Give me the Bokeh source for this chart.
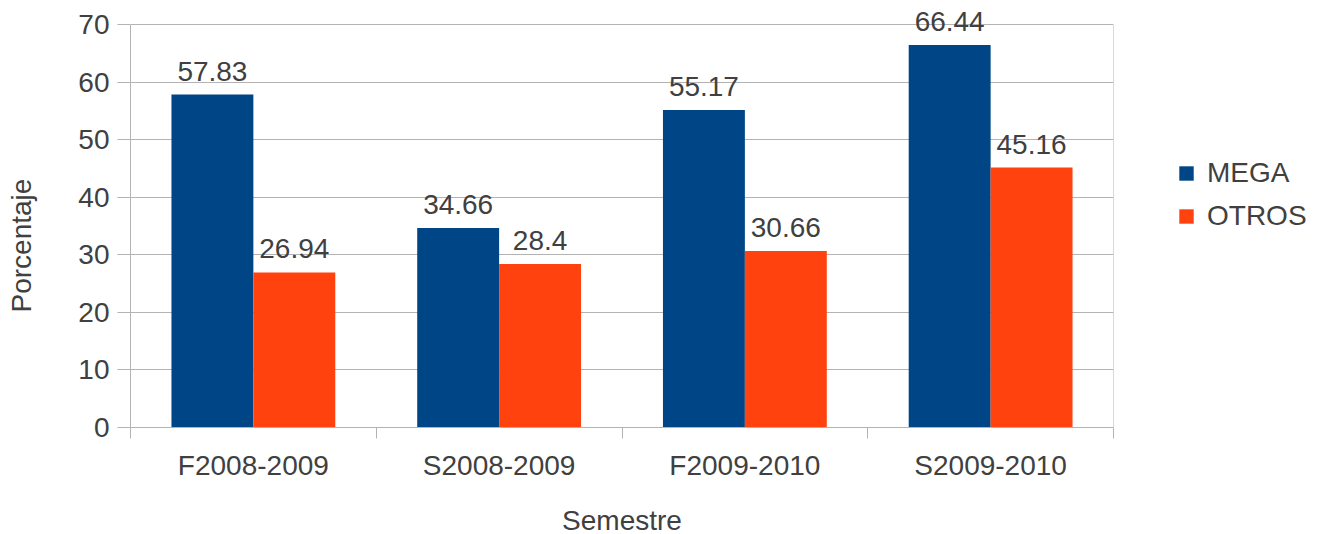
from bokeh.plotting import figure
from bokeh.models import ColumnDataSource, FixedTicker, Legend, LegendItem, Range1d, LabelSet, Title
from bokeh.transform import dodge
from bokeh.core.properties import value
from bokeh.embed import file_html
from bokeh.resources import INLINE

categories = ["F2008-2009", "S2008-2009", "F2009-2010", "S2009-2010"]
mega = [57.83, 34.66, 55.17, 66.44]
otros = [26.94, 28.4, 30.66, 45.16]
y_ticks = [0, 10, 20, 30, 40, 50, 60, 70]

FONT = "Liberation Sans"
TXT = "#404040"
GRID = "#b3b3b3"
MEGA_C = "#004586"
OTROS_C = "#ff420e"

# plot box spans 0..70 in 403px; extra headroom above so top labels are not clipped
Y_MAX = max(y_ticks)
PX_BOX = 403
PX_HEAD = 24
y_end = Y_MAX * (PX_BOX + PX_HEAD) / PX_BOX

xc = [i + 0.5 for i in range(len(categories))]
src = ColumnDataSource(dict(
    x=xc, mega=mega, otros=otros,
    mega_lbl=[f"{v:g}" for v in mega],
    otros_lbl=[f"{v:g}" for v in otros],
))

p = figure(width=1304, height=518, output_backend="svg", toolbar_location=None,
           x_range=Range1d(0, len(categories)), y_range=Range1d(0, y_end),
           min_border_left=130, min_border_right=191, min_border_top=0,
           min_border_bottom=86)
p.frame_width = 983
p.frame_height = PX_BOX + PX_HEAD

w = 1 / 3
r1 = p.vbar(x=dodge("x", -w / 2, range=p.x_range), top="mega", width=w, source=src,
            fill_color=MEGA_C, line_color=None)
r2 = p.vbar(x=dodge("x", w / 2, range=p.x_range), top="otros", width=w, source=src,
            fill_color=OTROS_C, line_color=None)

for col, lbl, off in (("mega", "mega_lbl", -w / 2), ("otros", "otros_lbl", w / 2)):
    labels = LabelSet(x=dodge("x", off, range=p.x_range), y=col, text=lbl, source=src,
                      text_align="center", text_baseline="bottom", y_offset=14,
                      text_font=value(FONT), text_font_size=value("28px"),
                      text_color=TXT, level="overlay")
    p.add_layout(labels)

# right border of the plot box
p.segment(x0=[len(categories)], y0=[0], x1=[len(categories)], y1=[Y_MAX],
          line_color=GRID, line_width=1)

# y axis
yax = p.yaxis[0]
yax.ticker = FixedTicker(ticks=y_ticks)
yax.bounds = (0, Y_MAX)
yax.major_label_text_font = FONT
yax.major_label_text_font_size = "28px"
yax.major_label_text_color = TXT
yax.major_label_standoff = 8
yax.major_tick_out = 13
yax.major_tick_in = 0
yax.minor_tick_line_color = None
yax.axis_line_color = GRID
yax.major_tick_line_color = GRID

# spacer between the y axis and its title, then the title itself
spacer = Title(text=" ", standoff=36, text_font_size="1px")
p.add_layout(spacer, "left")
ytitle = Title(text="Porcentaje", align="left", offset=115, standoff=0,
               text_font=FONT, text_font_size="28px", text_font_style="normal",
               text_color=TXT)
p.add_layout(ytitle, "left")

# x axis
xax = p.xaxis[0]
xax.ticker = FixedTicker(ticks=xc, minor_ticks=list(range(len(categories) + 1)))
xax.major_label_overrides = {x: c for x, c in zip(xc, categories)}
xax.axis_label = "Semestre"
xax.axis_label_text_font = FONT
xax.axis_label_text_font_size = "28px"
xax.axis_label_text_font_style = "normal"
xax.axis_label_text_color = TXT
xax.axis_label_standoff = 21
xax.major_label_text_font = FONT
xax.major_label_text_font_size = "28px"
xax.major_label_text_color = TXT
xax.major_label_standoff = 11
xax.major_tick_out = 0
xax.major_tick_in = 0
xax.major_tick_line_color = None
xax.minor_tick_out = 11
xax.minor_tick_in = 0
xax.minor_tick_line_color = GRID
xax.axis_line_color = GRID

p.xgrid.grid_line_color = None
p.ygrid.grid_line_color = GRID
p.ygrid.ticker = FixedTicker(ticks=y_ticks)
p.outline_line_color = None
p.background_fill_color = "white"
p.border_fill_color = "white"

legend = Legend(items=[LegendItem(label="MEGA", renderers=[r1]),
                       LegendItem(label="OTROS", renderers=[r2])],
                location=(64, 195), orientation="vertical",
                label_text_font=FONT, label_text_font_size="28px",
                label_text_color=TXT, glyph_width=18, glyph_height=18,
                label_height=32, label_standoff=12, spacing=11,
                padding=0, margin=0, border_line_color=None,
                background_fill_alpha=0)
p.add_layout(legend, "right")

open("out.html", "w").write(file_html(p, INLINE))
